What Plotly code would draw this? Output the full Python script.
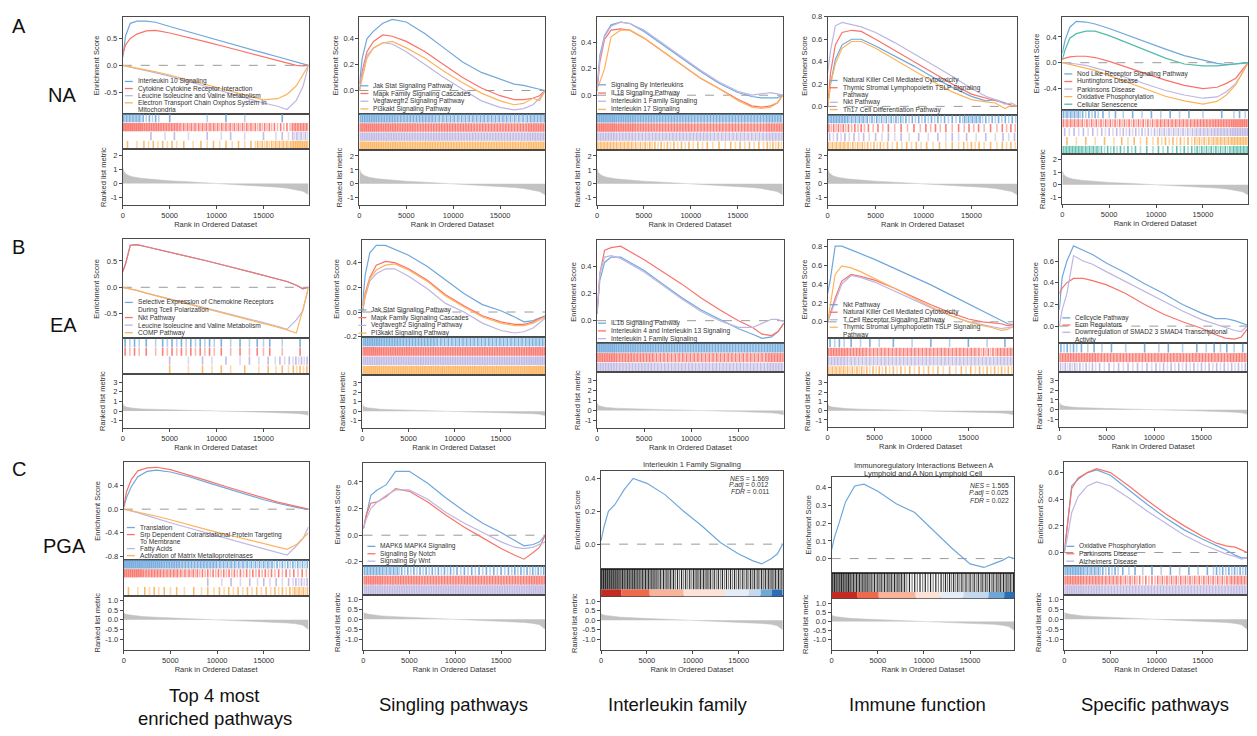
import plotly.graph_objects as go

W, H = 1257, 736
N_GENES = 19800

BLUE = "#6fa8dc"
RED = "#f9736a"
LAV = "#bdb6e2"
ORANGE = "#fdb35c"
TEAL = "#52bcaa"
INK = "#111111"

# ranks at which the running enrichment scores were read
RANKS = [0, 300, 800, 1500, 2500, 3500, 5000, 7000, 9000, 11000, 13000, 15000, 16500, 17500, 18500, 19200, 19800]
# hit density bins (number of hits per bin, read from strips)
HIT_BIN_EDGES = [0, 2000, 4000, 6000, 8000, 10000, 12000, 14000, 16000, 18000, 19800]
# ranked list metric
METRIC_RANKS = [0, 150, 500, 1000, 2000, 3500, 5000, 7000, 9000, 9700, 11000, 13000, 15000, 16500, 17500, 18500, 19200, 19800]
metric_na = [1.1, 0.8, 0.6, 0.48, 0.36, 0.26, 0.19, 0.12, 0.05, 0.0, -0.04, -0.1, -0.18, -0.26, -0.33, -0.43, -0.55, -0.78]
metric_ea = [0.75, 0.5, 0.38, 0.3, 0.22, 0.16, 0.12, 0.07, 0.03, 0.0, -0.03, -0.07, -0.12, -0.16, -0.2, -0.25, -0.32, -0.45]
metric_pga = [0.35, 0.3, 0.26, 0.22, 0.17, 0.13, 0.1, 0.06, 0.02, 0.0, -0.02, -0.05, -0.09, -0.12, -0.16, -0.21, -0.28, -0.5]

RANK_TICKS = [0, 5000, 10000, 15000]

# ---------------- Row A : NA ----------------
na_top4_names = ["Interleukin 10 Signaling", "Cytokine Cytokine Receptor Interaction",
                 "Leucine Isoleucine and Valine Metabolism", "Electron Transport Chain Oxphos System In<br>Mitochondria"]
na_top4_es = [
    [0.15, 0.55, 0.78, 0.82, 0.82, 0.8, 0.72, 0.62, 0.52, 0.42, 0.32, 0.23, 0.16, 0.11, 0.06, 0.03, 0.0],
    [0.2, 0.38, 0.5, 0.58, 0.64, 0.65, 0.6, 0.52, 0.43, 0.34, 0.25, 0.16, 0.09, 0.04, 0.0, -0.01, 0.0],
    [0.0, -0.01, -0.03, -0.06, -0.1, -0.14, -0.2, -0.3, -0.4, -0.5, -0.6, -0.7, -0.76, -0.82, -0.65, -0.4, 0.0],
    [0.0, -0.01, -0.02, -0.04, -0.08, -0.12, -0.18, -0.27, -0.36, -0.45, -0.54, -0.64, -0.62, -0.54, -0.38, -0.18, 0.0],
]
na_top4_hits = [
    [12, 6, 1, 0, 1, 1, 1, 0, 1, 0],
    [20, 16, 14, 10, 10, 9, 9, 8, 6, 12],
    [0, 1, 2, 1, 1, 2, 1, 1, 3, 8],
    [2, 4, 4, 2, 3, 3, 3, 8, 10, 15],
]

na_sig_names = ["Jak Stat Signaling Pathway", "Mapk Family Signaling Cascades",
                "Vegfavegfr2 Signaling Pathway", "Pi3kakt Signaling Pathway"]
na_sig_es = [
    [0.05, 0.25, 0.4, 0.46, 0.52, 0.55, 0.53, 0.44, 0.33, 0.22, 0.14, 0.09, 0.05, 0.04, 0.02, 0.01, 0.0],
    [0.0, 0.15, 0.3, 0.38, 0.43, 0.42, 0.38, 0.3, 0.2, 0.1, 0.02, -0.04, -0.07, -0.07, -0.06, -0.04, 0.0],
    [0.0, 0.12, 0.27, 0.33, 0.37, 0.36, 0.3, 0.2, 0.1, 0.01, -0.08, -0.13, -0.15, -0.14, -0.11, -0.06, 0.0],
    [0.0, 0.1, 0.25, 0.33, 0.37, 0.38, 0.33, 0.25, 0.15, 0.06, -0.02, -0.08, -0.11, -0.1, -0.06, -0.08, 0.0],
]
na_sig_hits = [
    [16, 14, 12, 12, 10, 10, 10, 10, 9, 10],
    [18, 16, 15, 14, 14, 14, 13, 13, 13, 14],
    [16, 15, 14, 14, 14, 13, 13, 13, 13, 13],
    [18, 16, 15, 15, 14, 14, 14, 14, 14, 14],
]

na_il_names = ["Signaling By Interleukins", "IL18 Signaling Pathway",
               "Interleukin 1 Family Signaling", "Interleukin 17 Signaling"]
na_il_es = [
    [0.05, 0.3, 0.45, 0.53, 0.55, 0.54, 0.48, 0.38, 0.28, 0.18, 0.09, 0.02, -0.01, -0.02, -0.02, -0.02, 0.0],
    [0.03, 0.25, 0.42, 0.49, 0.5, 0.49, 0.43, 0.33, 0.23, 0.13, 0.05, -0.03, -0.08, -0.09, -0.08, -0.06, 0.0],
    [0.03, 0.28, 0.44, 0.52, 0.55, 0.54, 0.49, 0.39, 0.29, 0.19, 0.1, 0.03, 0.0, 0.01, 0.02, 0.01, 0.0],
    [0.05, 0.1, 0.2, 0.44, 0.49, 0.49, 0.43, 0.33, 0.23, 0.13, 0.05, -0.04, -0.09, -0.1, -0.09, -0.06, 0.0],
]
na_il_hits = [
    [18, 16, 14, 13, 13, 12, 12, 12, 12, 12],
    [18, 16, 14, 13, 13, 12, 12, 12, 12, 13],
    [14, 12, 11, 11, 11, 11, 10, 10, 10, 11],
    [12, 10, 8, 6, 5, 4, 3, 4, 4, 6],
]

na_imm_names = ["Natural Killer Cell Mediated Cytotoxicity", "Thymic Stromal Lymphopoietin TSLP Signaling<br>Pathway",
                "Nkt Pathway", "Th17 Cell Differentiation Pathway"]
na_imm_es = [
    [0.0, 0.2, 0.42, 0.55, 0.6, 0.6, 0.54, 0.45, 0.36, 0.26, 0.17, 0.09, 0.05, 0.06, 0.03, 0.01, 0.0],
    [0.0, 0.3, 0.55, 0.66, 0.68, 0.67, 0.6, 0.5, 0.4, 0.3, 0.2, 0.11, 0.07, 0.05, 0.03, 0.01, 0.0],
    [0.3, 0.5, 0.72, 0.75, 0.73, 0.71, 0.66, 0.57, 0.47, 0.37, 0.27, 0.16, 0.09, 0.06, 0.02, 0.03, 0.0],
    [0.0, 0.2, 0.38, 0.52, 0.58, 0.58, 0.52, 0.42, 0.32, 0.22, 0.13, 0.06, 0.04, 0.03, -0.02, 0.01, 0.0],
]
na_imm_hits = [
    [14, 10, 8, 8, 6, 6, 5, 10, 6, 5],
    [8, 6, 4, 3, 3, 4, 3, 4, 3, 4],
    [5, 4, 3, 3, 2, 2, 3, 2, 2, 3],
    [10, 8, 6, 4, 4, 3, 3, 5, 3, 4],
]

na_spec_names = ["Nod Like Receptor Signaling Pathway", "Huntingtons Disease", "Parkinsons Disease",
                 "Oxidative Phosphorylation", "Cellular Senescence"]
na_spec_es = [
    [0.15, 0.35, 0.55, 0.64, 0.63, 0.6, 0.53, 0.42, 0.31, 0.21, 0.11, 0.04, -0.01, -0.03, -0.02, -0.01, 0.0],
    [0.05, 0.07, 0.09, 0.1, 0.1, 0.08, 0.02, -0.08, -0.18, -0.27, -0.35, -0.4, -0.38, -0.32, -0.24, -0.12, 0.0],
    [0.0, 0.0, -0.01, -0.02, -0.04, -0.08, -0.14, -0.24, -0.34, -0.43, -0.5, -0.55, -0.53, -0.45, -0.32, -0.16, 0.0],
    [0.0, -0.01, -0.03, -0.05, -0.08, -0.12, -0.2, -0.31, -0.42, -0.52, -0.59, -0.64, -0.6, -0.5, -0.34, -0.15, 0.0],
    [0.05, 0.2, 0.38, 0.45, 0.49, 0.49, 0.42, 0.3, 0.18, 0.07, -0.02, -0.05, -0.05, -0.04, -0.02, -0.01, 0.0],
]
na_spec_hits = [
    [10, 6, 3, 2, 2, 2, 2, 1, 1, 3],
    [10, 8, 8, 8, 8, 10, 10, 12, 14, 16],
    [4, 4, 5, 6, 6, 8, 8, 10, 12, 14],
    [2, 2, 2, 3, 3, 5, 5, 8, 10, 12],
    [12, 10, 6, 5, 3, 4, 5, 8, 8, 10],
]

# ---------------- Row B : EA ----------------
ea_top4_names = ["Selective Expression of Chemokine Receptors<br>During Tcell Polarization", "Nkt Pathway",
                 "Leucine Isoleucine and Valine Metabolism", "COMP Pathway"]
ea_top4_es = [
    [0.3, 0.45, 0.8, 0.81, 0.77, 0.73, 0.67, 0.58, 0.5, 0.41, 0.32, 0.23, 0.16, 0.11, 0.04, -0.03, 0.0],
    [0.3, 0.45, 0.8, 0.81, 0.77, 0.73, 0.67, 0.58, 0.5, 0.41, 0.32, 0.23, 0.16, 0.11, 0.04, -0.03, 0.0],
    [0.0, -0.01, -0.03, -0.06, -0.11, -0.15, -0.22, -0.31, -0.4, -0.49, -0.58, -0.67, -0.74, -0.8, -0.62, -0.45, 0.0],
    [0.0, -0.01, -0.03, -0.06, -0.11, -0.16, -0.23, -0.32, -0.41, -0.5, -0.6, -0.69, -0.76, -0.81, -0.87, -0.42, 0.0],
]
ea_top4_hits = [
    [4, 2, 4, 4, 4, 2, 2, 3, 1, 1],
    [4, 2, 4, 4, 4, 2, 2, 3, 1, 1],
    [0, 0, 1, 1, 2, 1, 2, 2, 4, 6],
    [0, 0, 1, 1, 2, 2, 1, 2, 3, 5],
]

ea_sig_names = ["Jak Stat Signaling Pathway", "Mapk Family Signaling Cascades",
                "Vegfavegfr2 Signaling Pathway", "PI3kakt Signaling Pathway"]
ea_sig_es = [
    [0.05, 0.3, 0.48, 0.54, 0.54, 0.51, 0.46, 0.37, 0.26, 0.15, 0.06, 0.01, -0.04, -0.08, -0.07, -0.05, -0.03],
    [0.0, 0.15, 0.28, 0.38, 0.41, 0.4, 0.35, 0.26, 0.14, 0.05, -0.03, -0.08, -0.1, -0.1, -0.08, -0.05, -0.04],
    [0.0, 0.12, 0.25, 0.31, 0.35, 0.35, 0.29, 0.19, 0.07, 0.0, -0.09, -0.15, -0.17, -0.16, -0.13, -0.09, -0.05],
    [0.0, 0.13, 0.27, 0.34, 0.38, 0.39, 0.34, 0.25, 0.13, 0.04, -0.04, -0.09, -0.11, -0.11, -0.09, -0.06, -0.04],
]
ea_sig_hits = [
    [16, 14, 12, 12, 10, 10, 10, 10, 10, 10],
    [18, 16, 16, 15, 15, 15, 15, 15, 15, 15],
    [16, 15, 15, 15, 15, 15, 15, 15, 15, 15],
    [18, 17, 17, 17, 17, 17, 17, 17, 17, 17],
]

ea_il_names = ["IL1b Signaling Pathway", "Interleukin 4 and Interleukin 13 Signaling", "Interleukin 1 Family Signaling"]
ea_il_es = [
    [0.05, 0.3, 0.43, 0.47, 0.47, 0.43, 0.37, 0.27, 0.17, 0.08, 0.01, -0.06, -0.1, -0.13, -0.12, -0.08, -0.02],
    [0.05, 0.35, 0.52, 0.54, 0.55, 0.51, 0.45, 0.36, 0.27, 0.17, 0.08, 0.0, -0.05, -0.1, -0.11, -0.08, -0.02],
    [0.05, 0.35, 0.47, 0.48, 0.46, 0.42, 0.36, 0.26, 0.16, 0.07, 0.0, -0.05, -0.05, -0.02, 0.01, 0.01, -0.01],
]
ea_il_hits = [
    [18, 16, 15, 14, 14, 14, 13, 13, 13, 13],
    [16, 13, 12, 10, 10, 10, 10, 10, 10, 12],
    [14, 12, 12, 11, 11, 11, 11, 11, 11, 12],
]

ea_imm_names = ["Nkt Pathway", "Natural Killer Cell Mediated Cytotoxicity", "T Cell Receptor Signaling Pathway",
                "Thymic Stromal Lymphopoietin TSLP Signaling<br>Pathway"]
ea_imm_es = [
    [0.3, 0.46, 0.8, 0.8, 0.76, 0.72, 0.66, 0.57, 0.48, 0.39, 0.29, 0.19, 0.12, 0.07, 0.02, -0.02, -0.03],
    [0.0, 0.1, 0.25, 0.43, 0.5, 0.48, 0.44, 0.36, 0.27, 0.18, 0.1, 0.03, 0.0, -0.01, -0.02, -0.04, -0.03],
    [0.0, 0.08, 0.22, 0.4, 0.49, 0.47, 0.42, 0.33, 0.24, 0.15, 0.07, 0.0, -0.03, -0.05, -0.07, -0.06, -0.05],
    [0.0, 0.2, 0.5, 0.59, 0.57, 0.53, 0.46, 0.36, 0.26, 0.16, 0.07, 0.0, -0.04, -0.06, -0.09, -0.08, -0.05],
]
ea_imm_hits = [
    [4, 2, 2, 1, 1, 1, 1, 1, 1, 1],
    [14, 12, 10, 10, 10, 10, 10, 10, 8, 10],
    [12, 10, 10, 10, 10, 10, 10, 10, 10, 10],
    [10, 8, 6, 5, 4, 4, 3, 4, 5, 5],
]

ea_spec_names = ["Cellcycle Pathway", "Ecm Regulators", "Downregulation of SMAD2 3 SMAD4 Transcriptional<br>Activity"]
ea_spec_es = [
    [0.15, 0.45, 0.6, 0.74, 0.7, 0.66, 0.58, 0.49, 0.39, 0.3, 0.2, 0.12, 0.07, 0.07, 0.05, 0.03, 0.01],
    [0.3, 0.35, 0.4, 0.44, 0.44, 0.42, 0.38, 0.3, 0.2, 0.11, 0.04, -0.02, -0.08, -0.11, -0.12, -0.1, -0.03],
    [0.0, 0.15, 0.3, 0.65, 0.6, 0.57, 0.5, 0.41, 0.32, 0.23, 0.14, 0.06, 0.02, -0.01, -0.04, -0.05, 0.0],
]
ea_spec_hits = [
    [6, 3, 2, 1, 1, 2, 1, 2, 3, 2],
    [14, 14, 12, 12, 12, 12, 12, 12, 12, 12],
    [8, 6, 4, 4, 4, 5, 5, 5, 5, 5],
]

# ---------------- Row C : PGA ----------------
pga_top4_names = ["Translation", "Srp Dependent Cotranslational Protein Targeting<br>To Membrane",
                  "Fatty Acids", "Activation of Matrix Metalloproteinases"]
pga_top4_es = [
    [0.03, 0.2, 0.38, 0.55, 0.64, 0.66, 0.63, 0.55, 0.45, 0.35, 0.25, 0.16, 0.1, 0.06, 0.03, 0.01, 0.0],
    [0.05, 0.3, 0.5, 0.65, 0.7, 0.71, 0.67, 0.58, 0.48, 0.38, 0.28, 0.19, 0.12, 0.08, 0.05, 0.02, 0.0],
    [0.0, -0.01, -0.03, -0.06, -0.11, -0.16, -0.23, -0.32, -0.41, -0.5, -0.59, -0.68, -0.74, -0.78, -0.62, -0.5, -0.3],
    [0.0, -0.01, -0.02, -0.05, -0.08, -0.12, -0.18, -0.27, -0.35, -0.43, -0.51, -0.59, -0.65, -0.68, -0.6, -0.5, -0.4],
]
pga_top4_hits = [
    [20, 18, 15, 12, 12, 10, 9, 9, 7, 7],
    [18, 13, 11, 9, 7, 7, 6, 6, 5, 4],
    [0, 0, 0, 0, 1, 2, 2, 3, 3, 6],
    [2, 4, 3, 2, 3, 4, 4, 4, 5, 8],
]

pga_sig_names = ["MAPK6 MAPK4 Signaling", "Signaling By Notch", "Signaling By Wnt"]
pga_sig_es = [
    [0.05, 0.15, 0.3, 0.34, 0.38, 0.48, 0.48, 0.39, 0.28, 0.18, 0.09, 0.02, -0.04, -0.08, -0.07, -0.05, 0.0],
    [0.05, 0.15, 0.24, 0.25, 0.29, 0.35, 0.33, 0.25, 0.15, 0.06, -0.02, -0.1, -0.15, -0.18, -0.13, -0.09, 0.0],
    [0.05, 0.12, 0.2, 0.25, 0.3, 0.34, 0.34, 0.27, 0.17, 0.09, 0.02, -0.05, -0.09, -0.1, -0.09, -0.07, -0.05],
]
pga_sig_hits = [
    [12, 10, 6, 6, 6, 5, 5, 5, 6, 6],
    [16, 14, 14, 13, 13, 13, 13, 13, 13, 13],
    [16, 15, 15, 15, 15, 15, 15, 15, 15, 15],
]

pga_il_names = ["Interleukin 1 Family Signaling"]
pga_il_es = [
    [0.02, 0.1, 0.2, 0.24, 0.33, 0.4, 0.37, 0.3, 0.2, 0.11, 0.01, -0.06, -0.1, -0.12, -0.09, -0.06, 0.0],
]
pga_il_hits = [[18, 15, 13, 11, 9, 11, 9, 9, 10, 10]]
pga_il_stats = ["<i>NES</i> = 1.569", "<i>P.adj</i> = 0.012", "<i>FDR</i> = 0.011"]
pga_il_bar_edges = [0, 2200, 5300, 9000, 13500, 16100, 17400, 18600, 19800]

pga_imm_names = ["Immunoregulatory Interactions Between A", "Lymphoid and A Non Lymphoid Cell"]
pga_imm_es = [
    [0.05, 0.12, 0.2, 0.32, 0.41, 0.42, 0.38, 0.31, 0.26, 0.16, 0.06, -0.03, -0.05, -0.03, -0.01, 0.01, 0.0],
]
pga_imm_hits = [[16, 13, 11, 11, 7, 7, 9, 9, 10, 10]]
pga_imm_stats = ["<i>NES</i> = 1.565", "<i>P.adj</i> = 0.025", "<i>FDR</i> = 0.022"]
pga_imm_bar_edges = [0, 2800, 5100, 9100, 11800, 14300, 17000, 18700, 19800]

RANK_BAR_COLORS = ["#c42a22", "#ef6a4c", "#f9b39b", "#fde3d7", "#e4edf7", "#c4d9ee", "#6ea8d6", "#2a6fb3"]

pga_spec_names = ["Oxidative Phosphorylation", "Parkinsons Disease", "Alzheimers Disease"]
pga_spec_es = [
    [0.0, 0.2, 0.5, 0.55, 0.6, 0.62, 0.58, 0.47, 0.36, 0.26, 0.17, 0.1, 0.05, 0.02, -0.02, -0.04, -0.04],
    [0.0, 0.2, 0.48, 0.56, 0.6, 0.63, 0.6, 0.5, 0.39, 0.29, 0.2, 0.12, 0.07, 0.05, 0.04, 0.02, 0.0],
    [0.0, 0.1, 0.3, 0.42, 0.5, 0.53, 0.5, 0.41, 0.31, 0.22, 0.13, 0.06, 0.02, -0.01, -0.03, -0.05, -0.04],
]
pga_spec_hits = [
    [14, 10, 6, 3, 2, 2, 2, 2, 6, 6],
    [14, 12, 10, 8, 6, 8, 8, 8, 8, 10],
    [16, 14, 12, 12, 12, 12, 12, 12, 12, 12],
]

RANK_AXES = {
    "A": dict(range=(-1.5, 2.4), ticks=[-1, 0, 1, 2], fmt="{:.0f}", metric=metric_na),
    "B": dict(range=(-1.8, 3.85), ticks=[-1, 0, 1, 2, 3], fmt="{:.0f}", metric=metric_ea),
    "C": dict(range=(-1.55, 1.25), ticks=[-1, -0.5, 0, 0.5, 1], fmt="{:.1f}", metric=metric_pga),
}

C4 = [BLUE, RED, LAV, ORANGE]
C3 = [BLUE, RED, LAV]
panels = [
    dict(row="A", names=na_top4_names, es=na_top4_es, hits=na_top4_hits, colors=C4, box=(121, 307, 13, 111, 147, 203),
         es_range=(-0.9, 0.9), es_ticks=[-0.5, 0, 0.5], leg=(134, 78.3, 7.2)),
    dict(row="A", names=na_sig_names, es=na_sig_es, hits=na_sig_hits, colors=C4, box=(358, 544, 13, 111, 148, 203),
         es_range=(-0.18, 0.57), es_ticks=[0, 0.2, 0.4], leg=(370, 82.7, 7.8)),
    dict(row="A", names=na_il_names, es=na_il_es, hits=na_il_hits, colors=C4, box=(596, 782, 13, 111, 148, 203),
         es_range=(-0.14, 0.59), es_ticks=[0, 0.2, 0.4], leg=(608, 81.7, 8.3)),
    dict(row="A", names=na_imm_names, es=na_imm_es, hits=na_imm_hits, colors=C4, box=(827, 1017, 13, 112, 148, 203),
         es_range=(-0.075, 0.8), es_ticks=[0, 0.2, 0.4, 0.6, 0.8], leg=(840, 77.3, 7.35)),
    dict(row="A", names=na_spec_names, es=na_spec_es, hits=na_spec_hits, colors=[BLUE, RED, LAV, ORANGE, TEAL],
         box=(1062, 1248, 13, 107, 152, 202), es_range=(-0.73, 0.71), es_ticks=[-0.4, 0, 0.4], leg=(1075, 70.7, 7.65)),
    dict(row="B", names=ea_top4_names, es=ea_top4_es, hits=ea_top4_hits, colors=C4, box=(121, 307, 238, 338, 374, 429),
         es_range=(-0.97, 0.91), es_ticks=[-0.5, 0, 0.5], leg=(134, 301.7, 7.65)),
    dict(row="B", names=ea_sig_names, es=ea_sig_es, hits=ea_sig_hits, colors=C4, box=(361, 544, 239, 337, 375, 429),
         es_range=(-0.205, 0.58), es_ticks=[-0.2, 0, 0.2, 0.4], leg=(368, 309.3, 7.8)),
    dict(row="B", names=ea_il_names, es=ea_il_es, hits=ea_il_hits, colors=C3, box=(596, 783, 239, 343, 372, 429),
         es_range=(-0.167, 0.593), es_ticks=[0, 0.2, 0.4, 0.6], leg=(608, 322.7, 7.8)),
    dict(row="B", names=ea_imm_names, es=ea_imm_es, hits=ea_imm_hits, colors=C4, box=(827, 1013, 239, 338, 375, 428),
         es_range=(-0.174, 0.86), es_ticks=[0, 0.2, 0.4, 0.6, 0.8], leg=(840, 304, 7.6)),
    dict(row="B", names=ea_spec_names, es=ea_spec_es, hits=ea_spec_hits, colors=C3, box=(1059, 1247, 239, 343, 372, 428),
         es_range=(-0.158, 0.79), es_ticks=[0, 0.2, 0.4, 0.6], leg=(1073, 317.3, 7.3)),
    dict(row="C", names=pga_top4_names, es=pga_top4_es, hits=pga_top4_hits, colors=C4, box=(122, 307, 463, 562, 598, 653),
         es_range=(-0.86, 0.8), es_ticks=[-0.8, -0.4, 0, 0.4], leg=(136, 529.3, 7.1)),
    dict(row="C", names=pga_sig_names, es=pga_sig_es, hits=pga_sig_hits, colors=C3, box=(362, 544, 464, 568, 597, 653),
         es_range=(-0.23, 0.543), es_ticks=[-0.2, 0, 0.2, 0.4], leg=(377, 548.3, 7.5)),
    dict(row="C", names=pga_il_names, es=pga_il_es, hits=pga_il_hits, colors=[BLUE], box=(600, 782, 472, 571, 599, 653),
         es_range=(-0.15, 0.446), es_ticks=[0, 0.2, 0.4], leg=None, title_y=[466], stats=pga_il_stats,
         stats_pos=(770, 479.3, 7.0), bar_edges=pga_il_bar_edges),
    dict(row="C", names=pga_imm_names, es=pga_imm_es, hits=pga_imm_hits, colors=[BLUE], box=(831, 1014, 478, 575, 601, 653),
         es_range=(-0.08, 0.462), es_ticks=[0, 0.1, 0.2, 0.3, 0.4], leg=None, title_y=[466.7, 475], stats=pga_imm_stats,
         stats_pos=(1010.7, 486.7, 7.5), bar_edges=pga_imm_bar_edges),
    dict(row="C", names=pga_spec_names, es=pga_spec_es, hits=pga_spec_hits, colors=C3, box=(1064, 1247, 463, 568, 597, 653),
         es_range=(-0.1, 0.68), es_ticks=[0, 0.2, 0.4, 0.6], leg=(1077, 548.3, 7.5)),
]

FONT = "Liberation Sans, Arial, Helvetica, sans-serif"
AXC = "#4a4a4a"
TXT = "#333333"


def sfx(k):
    return "" if k == 1 else str(k)


def px(v):
    return v / W


def py(v):
    return 1 - v / H


def hit_positions(counts):
    pos = []
    for i, c in enumerate(counts):
        a, b = HIT_BIN_EDGES[i], HIT_BIN_EDGES[i + 1]
        for j in range(c):
            pos.append(a + (j + 0.5) * (b - a) / c)
    return pos


fig = go.Figure()
layout = {}
shapes = []
annotations = []

base_axis = dict(showline=True, mirror=True, linecolor=AXC, linewidth=1, showgrid=False, zeroline=False,
                 ticks="", showticklabels=False, fixedrange=True)
tick_axis = dict(ticks="outside", ticklen=3, tickwidth=1, tickcolor=AXC, showticklabels=True,
                 tickfont=dict(size=7.5, color=TXT, family=FONT))

for i, p in enumerate(panels):
    ke, kh, kr = 3 * i + 1, 3 * i + 2, 3 * i + 3
    x0, x1, yt, ye, yh, yr = p["box"]
    xd = [px(x0), px(x1)]
    rk = RANK_AXES[p["row"]]

    # ---- enrichment score panel ----
    layout["xaxis" + sfx(ke)] = dict(base_axis, domain=xd, range=[0, N_GENES], anchor="y" + sfx(ke))
    layout["yaxis" + sfx(ke)] = dict(base_axis, **tick_axis, domain=[py(ye), py(yt)], range=list(p["es_range"]),
                                     anchor="x" + sfx(ke), tickvals=p["es_ticks"],
                                     ticktext=["{:.1f}".format(v) for v in p["es_ticks"]],
                                     title=dict(text="Enrichment Score", font=dict(size=7.5, color=TXT, family=FONT),
                                                standoff=3))
    shapes.append(dict(type="line", xref="x" + sfx(ke) + " domain", yref="y" + sfx(ke), x0=0, x1=1, y0=0, y1=0,
                       line=dict(color="#9a9a9a", width=1, dash="dash"), layer="below"))
    for es, col in zip(p["es"], p["colors"]):
        fig.add_trace(go.Scatter(x=RANKS, y=es, mode="lines", line=dict(color=col, width=1.2),
                                 xaxis="x" + sfx(ke), yaxis="y" + sfx(ke), hoverinfo="skip"))

    # ---- hit strips ----
    layout["xaxis" + sfx(kh)] = dict(base_axis, domain=xd, range=[0, N_GENES], anchor="y" + sfx(kh))
    layout["yaxis" + sfx(kh)] = dict(base_axis, domain=[py(yh), py(ye)], range=[0, 1], anchor="x" + sfx(kh))
    S = len(p["hits"])
    is_single = "bar_edges" in p
    for s, (counts, col) in enumerate(zip(p["hits"], p["colors"])):
        if is_single:
            lo, hi, col = 0.25, 1.0, INK
        else:
            lo, hi = 1 - (s + 1) / S + 0.01, 1 - s / S - 0.01
        pos = hit_positions(counts)
        for parity, op in ((0, 0.9), (1, 0.5)):
            xs, ys = [], []
            for j, h in enumerate(pos):
                if j % 2 == parity:
                    xs += [h, h, None]
                    ys += [lo, hi, None]
            if xs:
                fig.add_trace(go.Scatter(x=xs, y=ys, mode="lines",
                                         line=dict(color=col, width=1.2 if is_single else 1.6), opacity=op,
                                         xaxis="x" + sfx(kh), yaxis="y" + sfx(kh), hoverinfo="skip"))
    if is_single:
        edges = p["bar_edges"]
        for j in range(len(edges) - 1):
            shapes.append(dict(type="rect", xref="x" + sfx(kh), yref="y" + sfx(kh), x0=edges[j], x1=edges[j + 1],
                               y0=0, y1=0.25, fillcolor=RANK_BAR_COLORS[j], line=dict(width=0), layer="above"))

    # ---- ranked list metric ----
    layout["xaxis" + sfx(kr)] = dict(base_axis, **tick_axis, domain=xd, range=[0, N_GENES], anchor="y" + sfx(kr),
                                     tickvals=RANK_TICKS, ticktext=[str(v) for v in RANK_TICKS],
                                     title=dict(text="Rank in Ordered Dataset",
                                                font=dict(size=7.5, color=TXT, family=FONT), standoff=2))
    layout["yaxis" + sfx(kr)] = dict(base_axis, **tick_axis, domain=[py(yr), py(yh)], range=list(rk["range"]),
                                     anchor="x" + sfx(kr), tickvals=rk["ticks"],
                                     ticktext=[rk["fmt"].format(v) for v in rk["ticks"]],
                                     title=dict(text="Ranked list metric", font=dict(size=7.5, color=TXT, family=FONT),
                                                standoff=3))
    fig.add_trace(go.Scatter(x=METRIC_RANKS, y=rk["metric"], mode="lines", fill="tozeroy",
                             fillcolor="#c2c2c2", line=dict(color="#c2c2c2", width=0.5),
                             xaxis="x" + sfx(kr), yaxis="y" + sfx(kr), hoverinfo="skip"))

    # ---- legend (manual) ----
    if p.get("leg"):
        tx, ty, sp = p["leg"]
        line_no = 0
        for name, col in zip(p["names"], p["colors"]):
            yy = ty + line_no * sp
            shapes.append(dict(type="line", xref="paper", yref="paper", x0=px(tx - 11), x1=px(tx - 3),
                               y0=py(yy), y1=py(yy), line=dict(color=col, width=1.3)))
            for part in name.split("<br>"):
                annotations.append(dict(text=part, x=px(tx), y=py(ty + line_no * sp), xref="paper", yref="paper",
                                        xanchor="left", yanchor="middle", showarrow=False,
                                        font=dict(size=6.6, color=TXT, family=FONT)))
                line_no += 1

    # ---- title + stats for single-set panels ----
    if is_single:
        cx = (x0 + x1) / 2
        for name, ty in zip(p["names"], p["title_y"]):
            annotations.append(dict(text=name, x=px(cx), y=py(ty), xref="paper", yref="paper", xanchor="center",
                                    yanchor="middle", showarrow=False, font=dict(size=7.5, color=TXT, family=FONT)))
        sx, sy, ssp = p["stats_pos"]
        for j, st in enumerate(p["stats"]):
            annotations.append(dict(text=st, x=px(sx), y=py(sy + j * ssp), xref="paper", yref="paper",
                                    xanchor="right", yanchor="middle", showarrow=False,
                                    font=dict(size=6.8, color=TXT, family=FONT)))

# row letters and group names
ROW_LABELS = [("A", 17, 22), ("NA", 60, 92), ("B", 17, 246), ("EA", 62, 325), ("C", 17, 470), ("PGA", 63, 548)]
for t, x, y in ROW_LABELS:
    annotations.append(dict(text=t, x=px(x), y=py(y), xref="paper", yref="paper", xanchor="center",
                            yanchor="middle", showarrow=False, font=dict(size=20, color="#111", family=FONT)))

COLUMN_LABELS = [("Top 4 most", 213, 699), ("enriched pathways", 213, 722), ("Singling pathways", 452, 708),
                 ("Interleukin family", 677, 708), ("Immune function", 917, 708), ("Specific pathways", 1155, 708)]
for t, x, y in COLUMN_LABELS:
    annotations.append(dict(text=t, x=px(x), y=py(y), xref="paper", yref="paper", xanchor="center",
                            yanchor="middle", showarrow=False, font=dict(size=18.5, color="#111", family=FONT)))

fig.update_layout(**layout)
fig.update_layout(width=W, height=H, margin=dict(l=0, r=0, t=0, b=0), paper_bgcolor="white",
                  plot_bgcolor="white", showlegend=False, shapes=shapes, annotations=annotations,
                  font=dict(family=FONT, color=TXT))

fig.write_html("out.html")
